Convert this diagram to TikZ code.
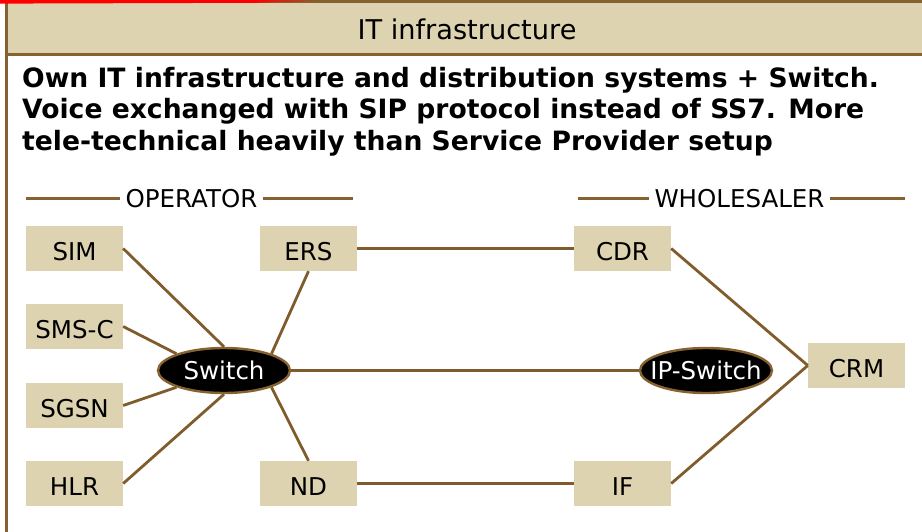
\documentclass[tikz,border=0pt]{standalone}
\usepackage{fontspec}
\setmainfont{DejaVu Sans}
\usetikzlibrary{shapes.geometric,fadings}
\definecolor{tan}{RGB}{221,211,176}
\definecolor{brn}{RGB}{134,98,48}
\definecolor{lnk}{RGB}{128,92,44}
\begin{document}
\begin{tikzpicture}[x=1pt,y=-1pt,
  box/.style={fill=tan, minimum width=97pt, minimum height=45pt, inner sep=0pt, text height=23.5pt, text depth=0pt, font=\fontsize{24.5}{25}\selectfont},
  sw/.style={ellipse, fill=black, draw=brn, line width=2.4pt, minimum width=132pt, minimum height=45pt, inner sep=0pt, text=white, font=\fontsize{24.5}{25}\selectfont},
  link/.style={draw=lnk, line width=2.8pt},
  divline/.style={draw=brn, line width=3pt},
  divtext/.style={inner xsep=5pt, inner ysep=0pt, font=\fontsize{24.5}{25}\selectfont},
  bold/.style={anchor=base west, inner sep=0pt, font=\fontsize{26.6}{27}\selectfont\bfseries}]
\useasboundingbox (0,0) rectangle (922,531);
% header
\path[fill=tan, draw=brn, line width=3pt] (6,1.5) rectangle (930,54);
\draw[brn, line width=3pt] (6,1.5) -- (6,540);
\fill[red] (0,-1) -- (255,-1) -- (255,2.8) -- (0,3.6) -- cycle;
\fill[red, path fading=east] (255,-1) -- (320,-1) -- (320,1.4) -- (255,2.8) -- cycle;
\node[anchor=base, inner sep=0pt, font=\fontsize{27.2}{27}\selectfont] (title) at (467,39) {IT infrastructure};
% description
\node[bold] (d1) at (22,87) {Own IT infrastructure and distribution systems + Switch.};
\node[bold] (d2) at (22,118.5) {Voice exchanged with SIP protocol instead of SS7. More};
\node[bold] (d3) at (22,150) {tele-technical heavily than Service Provider setup};
% dividers
\node[divtext] (OP) at (191.5,199) {OPERATOR};
\coordinate (opL) at (26,198);
\coordinate (opR) at (353,198);
\draw[divline] (opL) -- (OP.west |- opL);
\draw[divline] (OP.east |- opR) -- (opR);
\node[divtext] (WS) at (739.5,199) {WHOLESALER};
\coordinate (wsL) at (578,198);
\coordinate (wsR) at (905,198);
\draw[divline] (wsL) -- (WS.west |- wsL);
\draw[divline] (WS.east |- wsR) -- (wsR);
% boxes
\node[box] (SIM) at (74.5,248.5) {SIM};
\node[box] (SMSC) at (74.5,326.5) {SMS-C};
\node[box] (SGSN) at (74.5,405.5) {SGSN};
\node[box] (HLR) at (74.5,483.5) {HLR};
\node[box] (ERS) at (308.5,248.5) {ERS};
\node[box] (ND) at (308.5,483.5) {ND};
\node[box] (CDR) at (622.5,248.5) {CDR};
\node[box] (IF) at (622.5,483.5) {IF};
\node[box] (CRM) at (856.5,365.5) {CRM};
% switches
\node[sw] (Switch) at (224,370.5) {\makebox[0pt]{Switch}};
\node[sw] (IPS) at (706,370.5) {\makebox[0pt]{IP-Switch}};
% connectors
\draw[link] (SIM.east) -- (Switch.north);
\draw[link] (SMSC.east) -- (Switch.north west);
\draw[link] (SGSN.east) -- (Switch.south west);
\draw[link] (HLR.east) -- (Switch.south);
\draw[link] (ERS.south) -- (Switch.north east);
\draw[link] (ND.north) -- (Switch.south east);
\draw[link] (Switch.east) -- (IPS.west);
\draw[link] (ERS.east) -- (CDR.west);
\draw[link] (ND.east) -- (IF.west);
\draw[link] (CDR.east) -- (CRM.west);
\draw[link] (IF.east) -- (CRM.west);
\end{tikzpicture}
\end{document}
